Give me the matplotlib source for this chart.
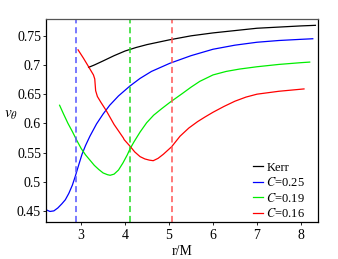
import matplotlib
matplotlib.use('Agg')
import matplotlib.pyplot as plt

# Data
kerr_r = [3.17, 3.3, 3.5, 3.75, 4.0, 4.25, 4.5, 5.0, 5.5, 6.0, 6.5, 7.0, 7.5, 8.0, 8.33]
kerr_v = [0.696, 0.700, 0.707, 0.716, 0.724, 0.730, 0.735, 0.743, 0.750, 0.755, 0.759, 0.763, 0.765, 0.767, 0.768]

c25_r = [2.2, 2.29, 2.38, 2.47, 2.56, 2.64, 2.72, 2.8, 2.87, 2.95, 3.02, 3.1, 3.2, 3.35,
         3.5, 3.65, 3.85, 4.11, 4.34, 4.6, 5.02, 5.5, 6.0, 6.5, 7.0, 7.5, 8.0, 8.27]
c25_v = [0.452, 0.449, 0.450, 0.455, 0.462, 0.469, 0.480, 0.494, 0.510, 0.530, 0.547, 0.562, 0.578, 0.599,
         0.616, 0.631, 0.647, 0.664, 0.677, 0.689, 0.703, 0.716, 0.727, 0.734, 0.739, 0.742, 0.744, 0.745]

c19_r = [2.51, 2.6, 2.7, 2.8, 2.9, 3.0, 3.1, 3.2, 3.3, 3.4, 3.5, 3.6, 3.66, 3.75, 3.85,
         3.95, 4.05, 4.11, 4.2, 4.34, 4.49, 4.65, 4.83, 5.02, 5.3, 5.5, 5.7, 6.0, 6.3,
         6.6, 7.0, 7.5, 8.0, 8.2]
c19_v = [0.631, 0.616, 0.600, 0.586, 0.571, 0.557, 0.546, 0.537, 0.528, 0.521, 0.515, 0.512, 0.511, 0.513, 0.520,
         0.532, 0.546, 0.556, 0.568, 0.585, 0.601, 0.614, 0.625, 0.636, 0.651, 0.662, 0.672, 0.683, 0.689,
         0.693, 0.697, 0.701, 0.704, 0.705]

c16_r = [2.93, 3.05, 3.17, 3.28, 3.31, 3.33, 3.37, 3.45, 3.57, 3.66, 3.75, 3.86, 3.96, 3.98,
         4.11, 4.22, 4.34, 4.45, 4.55, 4.64, 4.75, 4.87, 5.06, 5.25, 5.45, 5.65, 5.82, 6.0,
         6.25, 6.5, 6.75, 7.0, 7.5, 8.07]
c16_v = [0.726, 0.712, 0.697, 0.683, 0.676, 0.656, 0.646, 0.636, 0.622, 0.610, 0.598, 0.586, 0.575, 0.572,
         0.561, 0.551, 0.543, 0.539, 0.537, 0.536, 0.540, 0.547, 0.560, 0.578, 0.592, 0.603, 0.611, 0.619,
         0.629, 0.638, 0.645, 0.650, 0.655, 0.659]

isco_r = [2.886, 4.11, 5.06]

labels = ['Kerr', r'$C$=0.25', r'$C$=0.19', r'$C$=0.16']
line_colors = ['black', '#0000ff', '#00ee00', '#ff0000']
dash_colors = ['#5555ff', '#22dd22', '#ff5555']

xticks = [3, 4, 5, 6, 7, 8]
yticks = [0.45, 0.5, 0.55, 0.6, 0.65, 0.7, 0.75]
ytick_labels = ['0.45', '0.5', '0.55', '0.6', '0.65', '0.7', '0.75']

plt.rcParams['font.family'] = ['Liberation Serif', 'DejaVu Serif']
plt.rcParams['mathtext.fontset'] = 'stix'

fig = plt.figure(figsize=(3.38, 2.59), dpi=100)
ax = fig.add_axes([0.136, 0.143, 0.805, 0.784])

curves = [(kerr_r, kerr_v), (c25_r, c25_v), (c19_r, c19_v), (c16_r, c16_v)]
for (r, v), c, lab in zip(curves, line_colors, labels):
    ax.plot(r, v, color=c, lw=0.9, label=lab)

for xr, c in zip(isco_r, dash_colors):
    ax.axvline(xr, color=c, lw=1.1, dashes=(4, 2.5))

ax.set_xlim(2.2, 8.39)
ax.set_ylim(0.431, 0.779)
ax.set_xticks(xticks)
ax.set_yticks(yticks)
ax.set_yticklabels(ytick_labels)
ax.tick_params(direction='out', length=2, width=0.6, labelsize=10, pad=1.5)
ax.tick_params(axis='x', pad=3)
for s in ax.spines.values():
    s.set_linewidth(0.9)
ax.spines['top'].set_color('#555555')

ax.set_xlabel('r/M', fontsize=10, labelpad=2)
ax.set_ylabel(r'$v_\theta$', fontsize=11, rotation=0, labelpad=10)
ax.yaxis.set_label_coords(-0.13, 0.49)

leg = ax.legend(loc='lower right', bbox_to_anchor=(0.985, -0.035), frameon=False, fontsize=9,
                handlelength=0.8, handletextpad=0.3, labelspacing=0.2, borderaxespad=0.3)

fig.savefig('out.png', dpi=100)
